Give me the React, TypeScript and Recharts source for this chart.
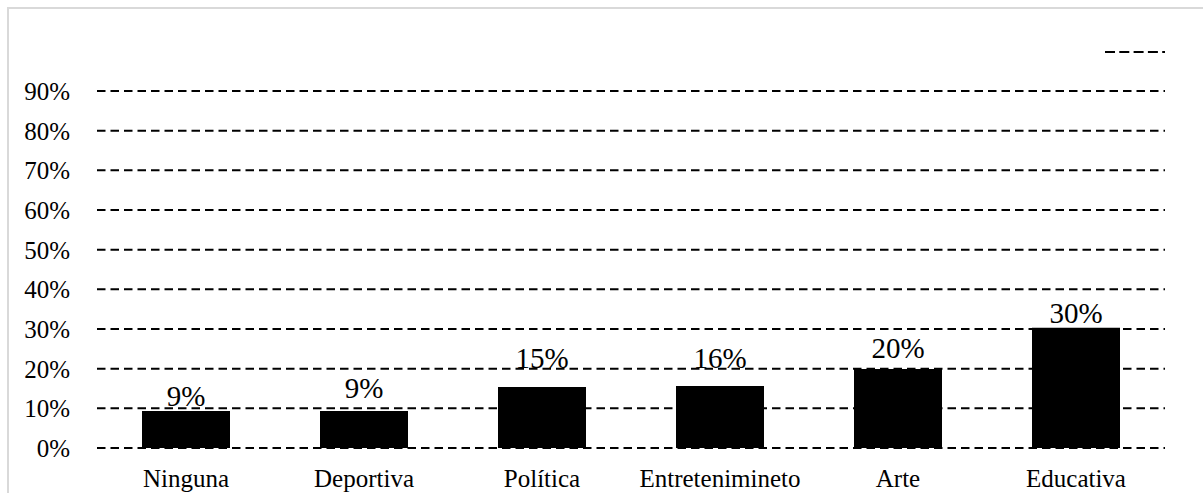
import { BarChart, Bar, XAxis, YAxis, CartesianGrid, Legend, LabelList } from "recharts";

const categories = ["Ninguna", "Deportiva", "Política", "Entretenimineto", "Arte", "Educativa"];
const values = [9.3, 9.3, 15.4, 15.6, 19.9, 30.3];
const valueLabels = ["9%", "9%", "15%", "16%", "20%", "30%"];
const yTicks = [0, 10, 20, 30, 40, 50, 60, 70, 80, 90];

// gap between each data label baseline and its bar top (labels were placed by hand in the original)
const labelGaps = [5, 13, 19, 18, 11, 5];

const data = categories.map((name, i) => ({ name, value: values[i], label: valueLabels[i] }));

const FONT = '"Liberation Serif", "Times New Roman", serif';

function DashLegend() {
  return (
    <div style={{ width: 60, height: 20, display: "flex", alignItems: "center" }}>
      <svg width={60} height={4}>
        <line x1={0} y1={2} x2={60} y2={2} stroke="#000" strokeWidth={2} strokeDasharray="10 4.3" />
      </svg>
    </div>
  );
}

function BarLabel(props: any) {
  const { x, y, width, value, index } = props;
  const gap = labelGaps[index] ?? 5;
  return (
    <text x={x + width / 2} y={y - gap} textAnchor="middle" fontSize={29} fill="#000" fontFamily={FONT}>
      {value}
    </text>
  );
}

export default function App() {
  return (
    <div
      style={{
        position: "fixed",
        top: 7,
        left: 7,
        width: 1196,
        height: 486,
        borderTop: "2px solid #d9d9d9",
        borderLeft: "2px solid #d9d9d9",
        overflow: "hidden",
        background: "#fff",
      }}
    >
      <BarChart
        width={1194}
        height={484}
        data={data}
        margin={{ top: 62, right: 38, left: 0, bottom: 0 }}
        style={{ fontFamily: FONT }}
      >
        <CartesianGrid vertical={false} stroke="#000" strokeWidth={2} strokeDasharray="8.5 5" />
        <XAxis
          dataKey="name"
          axisLine={false}
          tickLine={false}
          tickSize={0}
          tickMargin={21}
          height={45}
          interval={0}
          tick={{ fontSize: 25, fill: "#000", fontFamily: FONT }}
        />
        <YAxis
          domain={[0, 90]}
          ticks={yTicks}
          tickFormatter={(v) => `${v}%`}
          axisLine={false}
          tickLine={false}
          tickSize={0}
          tickMargin={27}
          width={88}
          tick={{ fontSize: 25, fill: "#000", fontFamily: FONT }}
        />
        <Legend
          verticalAlign="top"
          align="right"
          content={() => <DashLegend />}
          wrapperStyle={{ top: 33, right: 38, width: 60, height: 20, left: "auto" }}
        />
        <Bar dataKey="value" fill="#000" barSize={88} isAnimationActive={false}>
          <LabelList dataKey="label" content={BarLabel} />
        </Bar>
      </BarChart>
    </div>
  );
}
